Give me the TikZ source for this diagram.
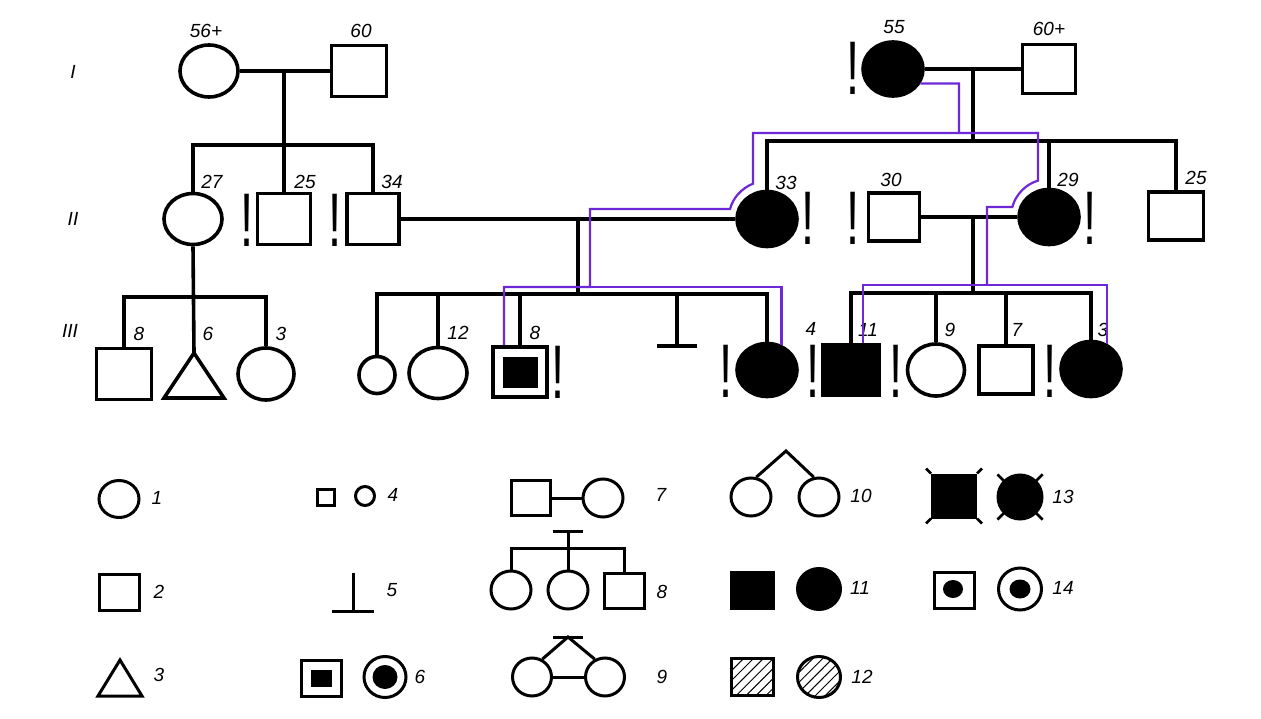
\documentclass[tikz,border=0pt]{standalone}
\usepackage{fontspec}
\usepackage{graphicx}
\setmainfont{Liberation Sans}
\usetikzlibrary{shapes.geometric,calc,patterns.meta}
\definecolor{trackviolet}{RGB}{110,40,215}
\newcommand{\excl}{\scalebox{0.62}[1]{!}}
\tikzset{
  kin/.style={line width=3.6pt},
  lkin/.style={line width=3pt},
  track/.style={line width=2.2pt, color=trackviolet},
  sq/.style={draw, line width=3.6pt, rectangle, inner sep=0pt, minimum width=54pt, minimum height=50pt},
  ci/.style={draw, line width=3.6pt, ellipse, inner sep=0pt, minimum width=58pt, minimum height=52pt},
  aff/.style={fill=black},
  lsq/.style={draw, line width=3pt, rectangle, inner sep=0pt, minimum width=40pt, minimum height=36pt},
  lci/.style={draw, line width=3pt, ellipse, inner sep=0pt, minimum width=40pt, minimum height=38pt},
  hatch/.style={pattern={Lines[angle=45, distance=7pt, line width=1pt]}},
  lab/.style={inner sep=0pt, font=\itshape\fontsize{19}{19}\selectfont},
  bang/.style={inner sep=0pt, anchor=base, text height=54pt, text depth=0pt, font=\fontsize{76}{76}\selectfont},
}
\begin{document}
\begin{tikzpicture}[x=1pt, y=-1pt]
  \useasboundingbox (0,0) rectangle (1261,719);
  \fill[white] (0,0) rectangle (1261,719);

  \node[lab] (g1) at (73,72) {I};
  \node[lab] (g2) at (73,219) {II};
  \node[lab] (g3) at (70,331) {III};

  \node[ci] (i1) at (209,71) {};
  \node[sq, minimum width=55pt, minimum height=51pt] (i2) at (359,71) {};
  \node[ci, aff, minimum width=60pt, minimum height=54pt] (i3) at (893,69) {};
  \node[sq, minimum width=53pt, minimum height=49pt] (i4) at (1049,69) {};
  \node[lab] (i1t) at (206,31) {56+};
  \node[lab] (i2t) at (361,31) {60};
  \node[lab] (i3t) at (894,27) {55};
  \node[lab] (i4t) at (1049,29) {60+};
  \node[bang] (i3x) at (853,95) {\excl};

  \node[ci, minimum height=51pt] (ii1) at (193,219) {};
  \node[sq, minimum width=53pt, minimum height=51pt] (ii2) at (284,219) {};
  \node[sq, minimum width=52pt, minimum height=51pt] (ii3) at (373,219) {};
  \node[ci, aff, minimum width=60pt, minimum height=55pt] (ii4) at (767,219) {};
  \node[sq, minimum width=51pt, minimum height=48pt] (ii5) at (894,217) {};
  \node[ci, aff, minimum width=60pt, minimum height=55pt] (ii6) at (1049,217) {};
  \node[sq, minimum width=55pt, minimum height=48pt] (ii7) at (1176,216) {};
  \node[lab] (ii1t) at (212,182) {27};
  \node[lab] (ii2t) at (305,182) {25};
  \node[lab] (ii3t) at (392,182) {34};
  \node[lab] (ii4t) at (786,183) {33};
  \node[lab] (ii5t) at (891,180) {30};
  \node[lab] (ii6t) at (1068,180) {29};
  \node[lab] (ii7t) at (1196,178) {25};
  \node[bang] (ii2x) at (247,247) {\excl};
  \node[bang] (ii3x) at (335,247) {\excl};
  \node[bang] (ii4x) at (808,245) {\excl};
  \node[bang] (ii5x) at (853,245) {\excl};
  \node[bang] (ii6x) at (1090,245) {\excl};

  \node[sq, minimum width=55pt, minimum height=51pt] (iii1) at (124,374) {};
  \coordinate (tri) at (194,353);
  \node[ci, minimum width=56pt] (iii3) at (266,374) {};
  \node[ci, minimum width=36pt, minimum height=37pt] (iii4) at (377,375) {};
  \node[ci, minimum height=51pt] (iii5) at (438,373) {};
  \node[sq] (iii6) at (520,372) {};
  \node[fill, inner sep=0pt, minimum width=35pt, minimum height=31pt] (iii6c) at (520,372) {};
  \coordinate (mc) at (677,346);
  \node[ci, aff, minimum width=60pt, minimum height=53pt] (iii7) at (767,370) {};
  \node[sq, aff, minimum width=56pt, minimum height=51pt] (iii8) at (851,370) {};
  \node[ci, minimum width=57pt] (iii9) at (936,370) {};
  \node[sq, minimum height=48pt] (iii10) at (1006,370) {};
  \node[ci, aff, minimum width=60pt, minimum height=55pt] (iii11) at (1091,369) {};
  \node[lab] (iii1t) at (139,334) {8};
  \node[lab] (iii2t) at (208,334) {6};
  \node[lab] (iii3t) at (281,334) {3};
  \node[lab] (iii5t) at (458,333) {12};
  \node[lab] (iii6t) at (535,333) {8};
  \node[lab] (iii7t) at (811,329) {4};
  \node[lab] (iii8t) at (868,330) {11};
  \node[lab] (iii9t) at (950,330) {9};
  \node[lab] (iii10t) at (1017,330) {7};
  \node[lab] (iii11t) at (1103,330) {3};
  \node[bang] (iii6x) at (558,398) {\excl};
  \node[bang] (iii7x) at (726,397) {\excl};
  \node[bang] (iii8x) at (813,397) {\excl};
  \node[bang] (iii9x) at (896,397) {\excl};
  \node[bang] (iii11x) at (1050,397) {\excl};

  \coordinate (m1) at (284,71);
  \coordinate (s1) at (284,145);
  \draw[kin] (i1.east) -- (i2.west);
  \draw[kin] (m1) -- (ii2.north);
  \draw[kin] (ii1.north) |- (s1) -| (ii3.north);

  \coordinate (m2) at (973,69);
  \coordinate (s2) at (973,141);
  \draw[kin] (i3.east) -- (i4.west);
  \draw[kin] (m2) -- (s2);
  \draw[kin] (ii4.north) |- (s2) -| (ii7.north);
  \draw[kin] (ii6.north) -- (ii6.north |- s2);

  \coordinate (s5) at (194,297);
  \draw[kin] (ii1.south) -- (tri);
  \draw[kin] (iii1.north) |- (s5) -| (iii3.north);
  \draw[kin] (tri) -- (224,398) -- (164,398) -- cycle;

  \coordinate (m3) at (578,219);
  \coordinate (s3) at (578,294);
  \draw[kin] (ii3.east) -- (ii4.west);
  \draw[kin] (m3) -- (s3);
  \draw[kin] (iii4.north) |- (s3) -| (iii7.north);
  \foreach \n in {iii5,iii6}
    \draw[kin] (\n.north) -- (\n.north |- s3);
  \draw[kin] (mc |- s3) -- (mc);
  \draw[kin] ($(mc)+(-20,0)$) -- ($(mc)+(20,0)$);

  \coordinate (m4) at (973,217);
  \coordinate (s4) at (973,293);
  \draw[kin] (ii5.east) -- (ii6.west);
  \draw[kin] (m4) -- (s4);
  \draw[kin] (iii8.north) |- (s4) -| (iii11.north);
  \foreach \n in {iii9,iii10}
    \draw[kin] (\n.north) -- (\n.north |- s4);

  \coordinate (pj) at (959,133);
  \draw[track] ($(iii6.north)+(-16,0)$) |- (590,287) |- (730,209)
    .. controls (733.1,197.5) and (741.9,188.1) .. (753,183.7) |- (pj);
  \draw[track] (iii7.60) |- (590,287);
  \draw[track] (i3.-28) -| (pj) -| (1038,180.6)
    .. controls (1025.5,184.4) and (1015.8,194.4) .. (1012.3,207) -| (987,285);
  \draw[track] ($(iii8.north)+(12,0)$) |- (987,285) -| (iii11.57);

  \node[lci, minimum height=37pt] (lg1) at (119,499) {};
  \node[lab] (lg1t) at (157,498) {1};
  \node[lsq] (lg2) at (119,592) {};
  \node[lab] (lg2t) at (159,592) {2};
  \coordinate (lg3) at (120,660);
  \draw[lkin] (lg3) -- (142,696) -- (98,696) -- cycle;
  \node[lab] (lg3t) at (159,675) {3};

  \node[lsq, minimum width=17pt, minimum height=16pt] (lg4a) at (326,497) {};
  \node[lci, minimum width=19pt, minimum height=19pt] (lg4b) at (365,496) {};
  \node[lab] (lg4t) at (393,495) {4};
  \coordinate (lg5) at (353,611);
  \draw[lkin] (lg5) -- ++(0,-38);
  \draw[lkin] ($(lg5)+(-21,0)$) -- ($(lg5)+(21,0)$);
  \node[lab] (lg5t) at (392,590) {5};
  \node[lsq] (lg6a) at (321,678) {};
  \node[fill, inner sep=0pt, minimum width=21pt, minimum height=17pt] (lg6c) at (321,678) {};
  \node[lci, minimum width=42pt, minimum height=41pt] (lg6b) at (385,677) {};
  \node[ellipse, fill, inner sep=0pt, minimum width=25pt, minimum height=24pt] (lg6d) at (385,677) {};
  \node[lab] (lg6t) at (420,677) {6};

  \node[lsq, minimum width=39pt, minimum height=35pt] (lg7a) at (531,498) {};
  \node[lci] (lg7b) at (603,498) {};
  \draw[lkin] (lg7a.east) -- (lg7b.west);
  \node[lab] (lg7t) at (661,495) {7};
  \coordinate (lg8) at (568,531);
  \coordinate (lg8s) at (568,548);
  \node[lci] (lg8a) at (511,590) {};
  \node[lci] (lg8b) at (568,590) {};
  \node[lsq, minimum height=35pt] (lg8c) at (624,591) {};
  \draw[lkin] ($(lg8)+(-15,0)$) -- ($(lg8)+(15,0)$);
  \draw[lkin] (lg8) -- (lg8b.north);
  \draw[lkin] (lg8a.north) |- (lg8s) -| (lg8c.north);
  \node[lab] (lg8t) at (662,592) {8};
  \coordinate (lg9) at (568,637);
  \node[lci, minimum width=39pt] (lg9a) at (532,677) {};
  \node[lci, minimum width=39pt] (lg9b) at (605,677) {};
  \draw[lkin] ($(lg9)+(-15,0)$) -- ($(lg9)+(15,0)$);
  \draw[lkin] (lg9a.60) -- (lg9) -- (lg9b.120);
  \draw[lkin] (lg9a.east) -- (lg9b.west);
  \node[lab] (lg9t) at (662,677) {9};

  \coordinate (lg10) at (786,451);
  \node[lci] (lg10a) at (751,497) {};
  \node[lci] (lg10b) at (819,497) {};
  \draw[lkin] (lg10a.75) -- (lg10) -- (lg10b.105);
  \node[lab] (lg10t) at (861,496) {10};
  \node[lsq, aff, minimum width=42pt] (lg11a) at (752,590) {};
  \node[lci, aff, minimum width=43pt, minimum height=41pt] (lg11b) at (819,589) {};
  \node[lab] (lg11t) at (860,588) {11};
  \node[lsq, hatch, minimum width=42pt, minimum height=37pt] (lg12a) at (752,677) {};
  \node[lci, hatch, minimum width=43pt, minimum height=41pt] (lg12b) at (819,677) {};
  \node[lab] (lg12t) at (862,677) {12};

  \node[lsq, aff, minimum width=43pt, minimum height=42pt] (lg13a) at (954,496) {};
  \node[lci, aff, minimum width=44pt, minimum height=44pt] (lg13b) at (1020,497) {};
  \foreach \c/\dx/\dy in {north west/-5/-5, north east/5/-5, south west/-5/5, south east/5/5}
    \draw[line width=2.5pt] (lg13a.\c) -- ++(\dx,\dy);
  \foreach \a in {45,135,225,315}
    \draw[line width=2.5pt] ($(lg13b)+(\a:17)$) -- ($(lg13b)+(\a:32)$);
  \node[lab] (lg13t) at (1063,497) {13};
  \node[lsq] (lg14a) at (954,590) {};
  \node[ellipse, fill, inner sep=0pt, minimum width=20pt, minimum height=18pt] (lg14c) at (953,589) {};
  \node[lci, minimum width=43pt, minimum height=42pt] (lg14b) at (1020,589) {};
  \node[ellipse, fill, inner sep=0pt, minimum width=21pt, minimum height=19pt] (lg14d) at (1020,589) {};
  \node[lab] (lg14t) at (1063,588) {14};
\end{tikzpicture}
\end{document}
